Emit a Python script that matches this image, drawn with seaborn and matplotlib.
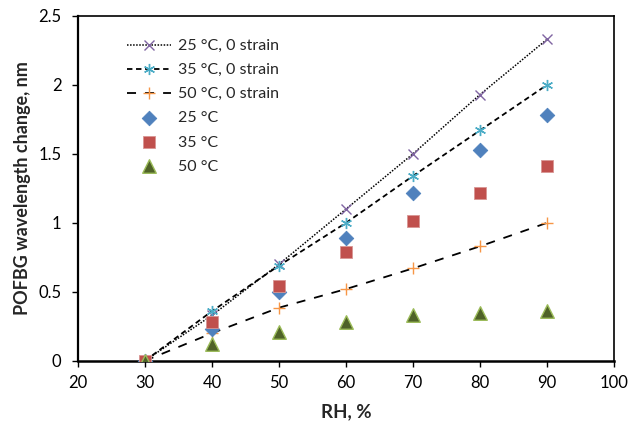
import matplotlib
matplotlib.use("Agg")
import matplotlib.pyplot as plt
import seaborn as sns

rh = [30, 40, 50, 60, 70, 80, 90]
s25_0 = [0, 0.33, 0.70, 1.10, 1.50, 1.93, 2.33]
s35_0 = [0, 0.36, 0.69, 1.00, 1.34, 1.67, 2.00]
s50_0 = [0, 0.20, 0.385, 0.52, 0.67, 0.83, 1.00]
m25 = [0, 0.23, 0.50, 0.89, 1.22, 1.53, 1.78]
m35 = [0, 0.28, 0.54, 0.79, 1.01, 1.22, 1.41]
m50 = [0, 0.12, 0.21, 0.28, 0.33, 0.35, 0.36]
xticks = [20, 30, 40, 50, 60, 70, 80, 90, 100]
yticks = [0, 0.5, 1, 1.5, 2, 2.5]
ytick_labels = ["0", "0.5", "1", "1.5", "2", "2.5"]

sns.set_style("white")
plt.rcParams['font.family'] = ['Lato', 'DejaVu Sans']

fig = plt.figure(figsize=(6.29, 4.21), dpi=100)
ax = fig.add_axes([0.124, 0.143, 0.852, 0.819])

sns.lineplot(x=rh, y=s25_0, ax=ax, color="black", lw=1.1, linestyle=(0, (1, 1)),
             marker="x", markersize=7, markeredgecolor="#8064A2", markeredgewidth=1.0,
             label="25 °C, 0 strain")
sns.lineplot(x=rh, y=s35_0, ax=ax, color="black", lw=1.3, linestyle=(0, (3, 2)),
             marker=(6, 2, 0), markersize=8, markeredgecolor="#4BACC6", markeredgewidth=1.0,
             label="35 °C, 0 strain")
sns.lineplot(x=rh, y=s50_0, ax=ax, color="black", lw=1.3, linestyle=(0, (5, 5)),
             marker="+", markersize=8, markeredgecolor="#F79646", markeredgewidth=1.0,
             label="50 °C, 0 strain")
sns.scatterplot(x=rh, y=m25, ax=ax, marker="D", s=55, color="#4F81BD",
                edgecolor="#4F81BD", label="25 °C", zorder=3)
sns.scatterplot(x=rh, y=m35, ax=ax, marker="s", s=85, color="#C0504D",
                edgecolor="#D99694", linewidth=0.6, label="35 °C", zorder=3)
sns.scatterplot(x=rh, y=m50, ax=ax, marker="^", s=95, color="#4F6228",
                edgecolor="#9BBB59", linewidth=1.0, label="50 °C", zorder=3)

ax.set_xlim(20, 100)
ax.set_ylim(0, 2.5)
ax.set_xticks(xticks)
ax.set_yticks(yticks)
ax.set_yticklabels(ytick_labels)
ax.tick_params(axis="both", labelsize=12, direction="out", length=4, width=1,
               bottom=True, left=True, colors="black")
ax.tick_params(axis="x", pad=6)
ax.tick_params(axis="y", pad=8)
for s in ax.spines.values():
    s.set_color("black")
    s.set_linewidth(1.2)
ax.spines["bottom"].set_linewidth(1.8)
ax.spines["left"].set_linewidth(1.6)
ax.set_xlabel("RH, %", fontsize=13.5, fontweight="bold", labelpad=9)
ax.set_ylabel("POFBG wavelength change, nm", fontsize=13, fontweight="bold", labelpad=5)

leg = ax.legend(loc="upper left", bbox_to_anchor=(0.064, 0.975), frameon=False,
                fontsize=11.5, handlelength=2.8, labelspacing=0.62, handletextpad=0.4)

fig.savefig("out.png", dpi=100)
